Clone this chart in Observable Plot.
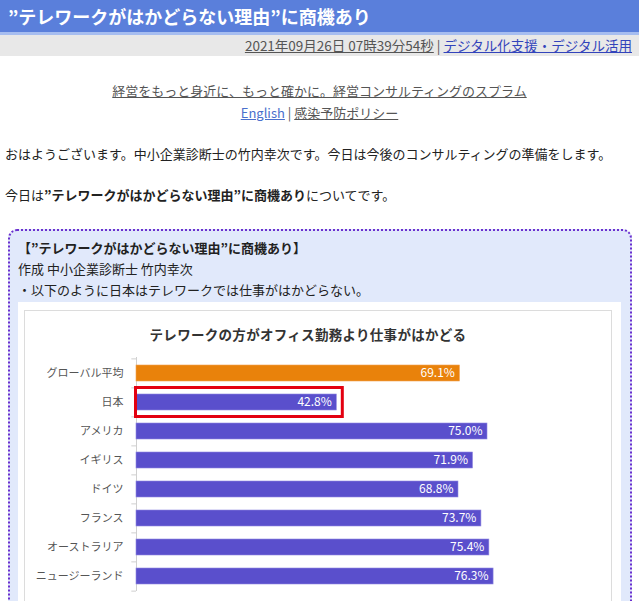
<!DOCTYPE html>
<html>
<head>
<meta charset="utf-8">
<script src="https://cdn.jsdelivr.net/npm/d3@7"></script>
<script src="https://cdn.jsdelivr.net/npm/@observablehq/plot@0.6"></script>
<style>
  html, body { margin: 0; padding: 0; background: #fff; }
  body { width: 639px; height: 601px; overflow: hidden; position: relative;
         font-family: "Noto Sans CJK JP", "Noto Sans", sans-serif; color: #333; }
  .abs { position: absolute; white-space: nowrap; }
  #hdr { left: 0; top: 0; width: 639px; height: 32px; background: #5a7fdb; }
  #hdr span { position: absolute; left: 8px; top: 0; line-height: 32px; font-size: 18px; font-weight: bold; color: #fff; }
  #stripe { left: 0; top: 32px; width: 639px; height: 3px; background: #a6bdf0; }
  #meta { left: 0; top: 35px; width: 639px; height: 21px; background: #e8e8e8; font-size: 13.5px; line-height: 21px; text-align: right; }
  #meta .inner { position: absolute; right: 7px; top: 0; }
  a { text-decoration: underline; }
  .gray { color: #555; }
  .blue { color: #3344bb; }
  .lblue { color: #4a6fcc; }
  .center { left: 0; width: 639px; text-align: center; font-size: 13px; line-height: 18px; }
  .para { left: 5px; font-size: 13px; line-height: 18px; color: #222; }
  #box { left: 8px; top: 229px; width: 620px; height: 400px; border: 2px dotted #6a2fcf; border-radius: 9px; background: #e1e9fb; }
  .boxt { left: 18px; font-size: 13px; line-height: 18px; color: #222; }
  #panel { left: 18px; top: 302px; width: 603px; height: 320px; background: #fff; }
  #frame { left: 24px; top: 310px; width: 586px; height: 320px; border: 1px solid #dcdcdc; background: #fff; }
  #ctitle { left: 24px; top: 325px; width: 568px; text-align: center; font-size: 13.5px; font-weight: bold; line-height: 18px; color: #333; letter-spacing: 0.3px; }
  #chart { left: 25px; top: 345px; }
</style>
</head>
<body>
<div id="hdr" class="abs"><span>”テレワークがはかどらない理由”に商機あり</span></div>
<div id="stripe" class="abs"></div>
<div id="meta" class="abs"><span class="inner"><a class="gray">2021年09月26日 07時39分54秒</a> <span class="gray">|</span> <a class="blue">デジタル化支援・デジタル活用</a></span></div>
<div class="abs center" style="top:82px;"><a class="gray">経営をもっと身近に、もっと確かに。経営コンサルティングのスプラム</a></div>
<div class="abs center" style="top:104px;"><a class="lblue">English</a> <span class="gray">|</span> <a class="gray">感染予防ポリシー</a></div>
<div class="abs para" style="top:145px;">おはようございます。中小企業診断士の竹内幸次です。今日は今後のコンサルティングの準備をします。</div>
<div class="abs para" style="top:186px;">今日は<b>”テレワークがはかどらない理由”に商機あり</b>についてです。</div>
<div id="box" class="abs"></div>
<div class="abs boxt" style="top:239px;"><b>【”テレワークがはかどらない理由”に商機あり】</b></div>
<div class="abs boxt" style="top:260px;">作成 中小企業診断士 竹内幸次</div>
<div class="abs boxt" style="top:281px;">・以下のように日本はテレワークでは仕事がはかどらない。</div>
<div id="panel" class="abs"></div>
<div id="frame" class="abs"></div>
<div id="ctitle" class="abs">テレワークの方がオフィス勤務より仕事がはかどる</div>
<div id="chart" class="abs"></div>
<script>
const categories = ["グローバル平均", "日本", "アメリカ", "イギリス", "ドイツ", "フランス", "オーストラリア", "ニュージーランド"];
const values = [69.1, 42.8, 75.0, 71.9, 68.8, 73.7, 75.4, 76.3];
const highlighted = ["日本"];
const averageLabel = "グローバル平均";

const data = categories.map((name, i) => ({name, value: values[i]}));
const hl = data.filter(d => highlighted.includes(d.name));
const ORANGE = "#e9820b", PURPLE = "#5a4fcc";

const W = 585, H = 260, MT = 12, MB = 14;
const step = (H - MT - MB) / categories.length;

const chart = Plot.plot({
  width: W, height: H,
  marginLeft: 111, marginRight: 6, marginTop: MT, marginBottom: MB,
  style: {fontFamily: "'Noto Sans CJK JP', sans-serif", fontSize: "11px", color: "#555", background: "transparent"},
  x: {domain: [0, 100], axis: null},
  y: {domain: categories, paddingInner: 0.45, paddingOuter: 0.225, tickSize: 0, tickPadding: 13, label: null},
  marks: [
    Plot.ruleX([0], {stroke: "#d0d0d0"}),
    Plot.ruleY(categories, {y: d => d, x1: -1, x2: 0, dy: -step / 2, stroke: "#cfcfcf"}),
    Plot.ruleY(categories.slice(-1), {y: d => d, x1: -1, x2: 0, dy: step / 2, stroke: "#cfcfcf"}),
    Plot.barX(data, {x: "value", y: "name", fill: d => d.name === averageLabel ? ORANGE : PURPLE, stroke: d => d.name === averageLabel ? "#f0a050" : "#8f88e0", strokeWidth: 0.6}),
    Plot.barX(hl, {x: "value", y: "name", fill: "none", stroke: "#e30010", strokeWidth: 3, insetLeft: -0.5, insetRight: -6, insetTop: -6.5, insetBottom: -6.5}),
    Plot.text(data, {x: "value", y: "name", text: d => d.value.toFixed(1) + "%", dx: -5, textAnchor: "end", fill: "white", fontSize: 12})
  ]
});
document.getElementById("chart").appendChild(chart);
</script>
</body>
</html>
